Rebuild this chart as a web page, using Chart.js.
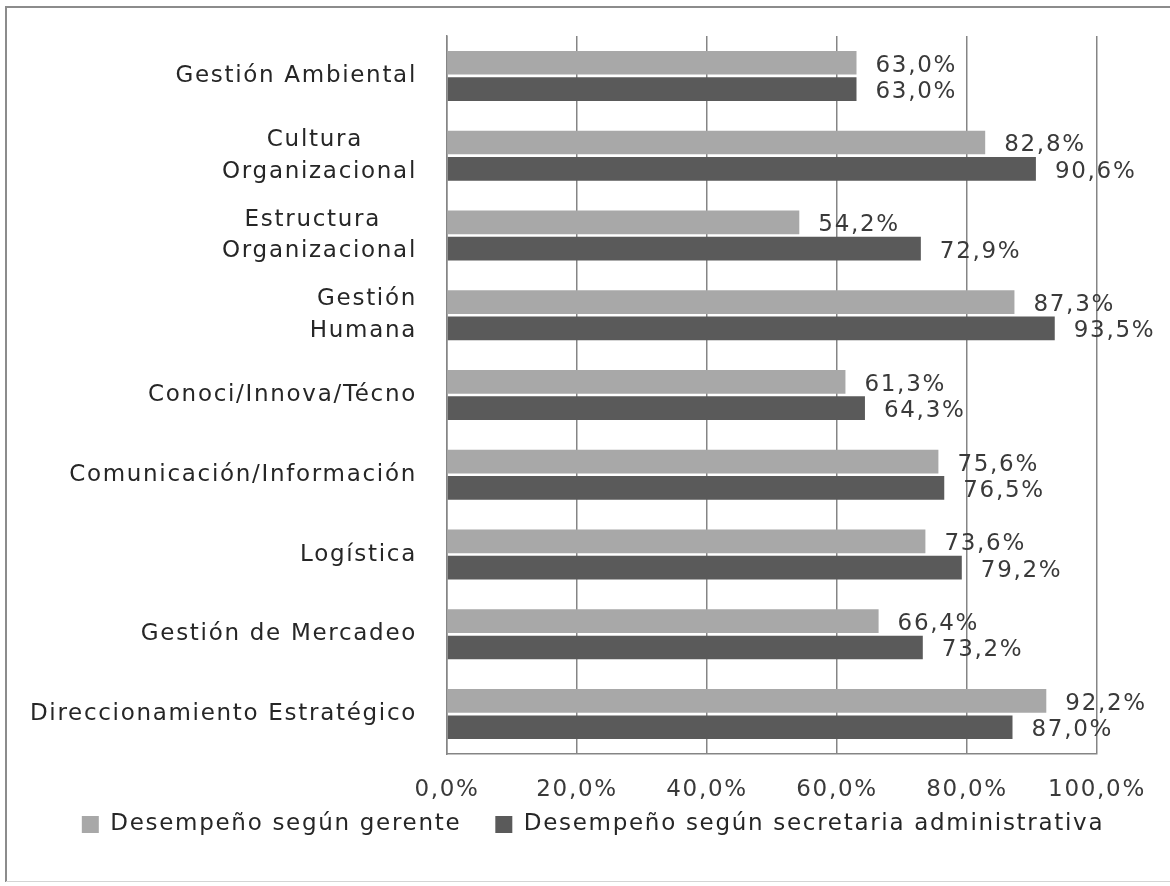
<!DOCTYPE html>
<html>
<head>
<meta charset="utf-8">
<script src="https://cdn.jsdelivr.net/npm/chart.js@4.4.1/dist/chart.umd.min.js"></script>
<style>
  html, body { margin: 0; padding: 0; background: #ffffff; }
  #wrap { width: 1170px; height: 886px; }
</style>
</head>
<body>
<div id="wrap"><canvas id="c" width="1170" height="886"></canvas></div>
<script>
const categories = [
  'Gestión Ambiental',
  ['Cultura      ', 'Organizacional'],
  ['Estructura    ', 'Organizacional'],
  ['Gestión', 'Humana'],
  'Conoci/Innova/Técno',
  'Comunicación/Información',
  'Logística',
  'Gestión de Mercadeo',
  'Direccionamiento Estratégico'
];
const seriesNames = ['Desempeño según gerente', 'Desempeño según secretaria administrativa'];
const gerente    = [63.0, 82.8, 54.2, 87.3, 61.3, 75.6, 73.6, 66.4, 92.2];
const secretaria = [63.0, 90.6, 72.9, 93.5, 64.3, 76.5, 79.2, 73.2, 87.0];
const xMin = 0, xMax = 100, xStep = 20;

const fmt = v => Number(v).toFixed(1).replace('.', ',') + '%';
const FONT = 'DejaVu Sans';
const SPACING = '1.7px';

const spacingPlugin = {
  id: 'spacing',
  beforeUpdate(chart) { chart.ctx.letterSpacing = SPACING; },
  beforeLayout(chart) { chart.ctx.letterSpacing = SPACING; },
  afterLayout(chart) {
    // let the x tick labels draw below the (deliberately short) axis box
    const x = chart.scales.x;
    x.bottom = x.top + 70;
  },
  beforeDraw(chart) {
    const ctx = chart.ctx;
    ctx.letterSpacing = SPACING;
    ctx.save();
    ctx.fillStyle = '#ffffff';
    ctx.fillRect(0, 0, chart.width, chart.height);
    ctx.strokeStyle = '#8c8c8c';
    ctx.lineWidth = 2;
    ctx.beginPath();
    ctx.moveTo(6, 882);
    ctx.lineTo(6, 7);
    ctx.lineTo(1170, 7);
    ctx.stroke();
    ctx.strokeStyle = '#d4d4d4';
    ctx.lineWidth = 1;
    ctx.beginPath();
    ctx.moveTo(6, 881.5);
    ctx.lineTo(1170, 881.5);
    ctx.stroke();
    ctx.restore();
  }
};

const labelPlugin = {
  id: 'valueLabels',
  afterDatasetsDraw(chart) {
    const ctx = chart.ctx;
    ctx.save();
    ctx.font = '23px "' + FONT + '"';
    ctx.fillStyle = '#3a3a3a';
    ctx.textAlign = 'left';
    ctx.textBaseline = 'middle';
    chart.data.datasets.forEach((ds, di) => {
      const meta = chart.getDatasetMeta(di);
      meta.data.forEach((bar, i) => {
        ctx.fillText(fmt(ds.data[i]), bar.x + 19, bar.y + 3);
      });
    });
    ctx.restore();
  }
};

new Chart(document.getElementById('c'), {
  type: 'bar',
  data: {
    labels: categories,
    datasets: [
      { label: seriesNames[0], data: gerente, backgroundColor: '#a8a8a8',
        categoryPercentage: 0.66, barPercentage: 0.9 },
      { label: seriesNames[1], data: secretaria, backgroundColor: '#5a5a5a',
        categoryPercentage: 0.66, barPercentage: 0.9 }
    ]
  },
  options: {
    indexAxis: 'y',
    responsive: false,
    animation: false,
    devicePixelRatio: 1,
    layout: { padding: { top: 36, right: 0, left: 16, bottom: 40 } },
    scales: {
      x: {
        min: xMin, max: xMax,
        afterFit(scale) {
          scale.height = 25;
          scale.paddingLeft = 0;
          scale.paddingRight = 73;
        },
        ticks: {
          stepSize: xStep,
          autoSkip: false,
          maxRotation: 0,
          callback: v => fmt(v),
          font: { family: FONT, size: 23 },
          color: '#3a3a3a',
          padding: 22
        },
        grid: { color: '#858585', lineWidth: 1.5, drawTicks: false },
        border: { display: true, color: '#858585', width: 1.5 }
      },
      y: {
        afterFit(scale) {
          scale.width = 431;
          scale.paddingTop = 0;
          scale.paddingBottom = 0;
        },
        ticks: {
          font: { family: FONT, size: 23, lineHeight: 1.38 },
          color: '#262626',
          padding: 30
        },
        grid: { display: false, drawTicks: false },
        border: { display: true, color: '#858585', width: 1.5 }
      }
    },
    plugins: {
      legend: {
        position: 'bottom',
        labels: {
          font: { family: FONT, size: 23 },
          color: '#262626',
          boxWidth: 17,
          boxHeight: 17,
          padding: 34
        }
      },
      tooltip: { enabled: false }
    }
  },
  plugins: [spacingPlugin, labelPlugin]
});
</script>
</body>
</html>
